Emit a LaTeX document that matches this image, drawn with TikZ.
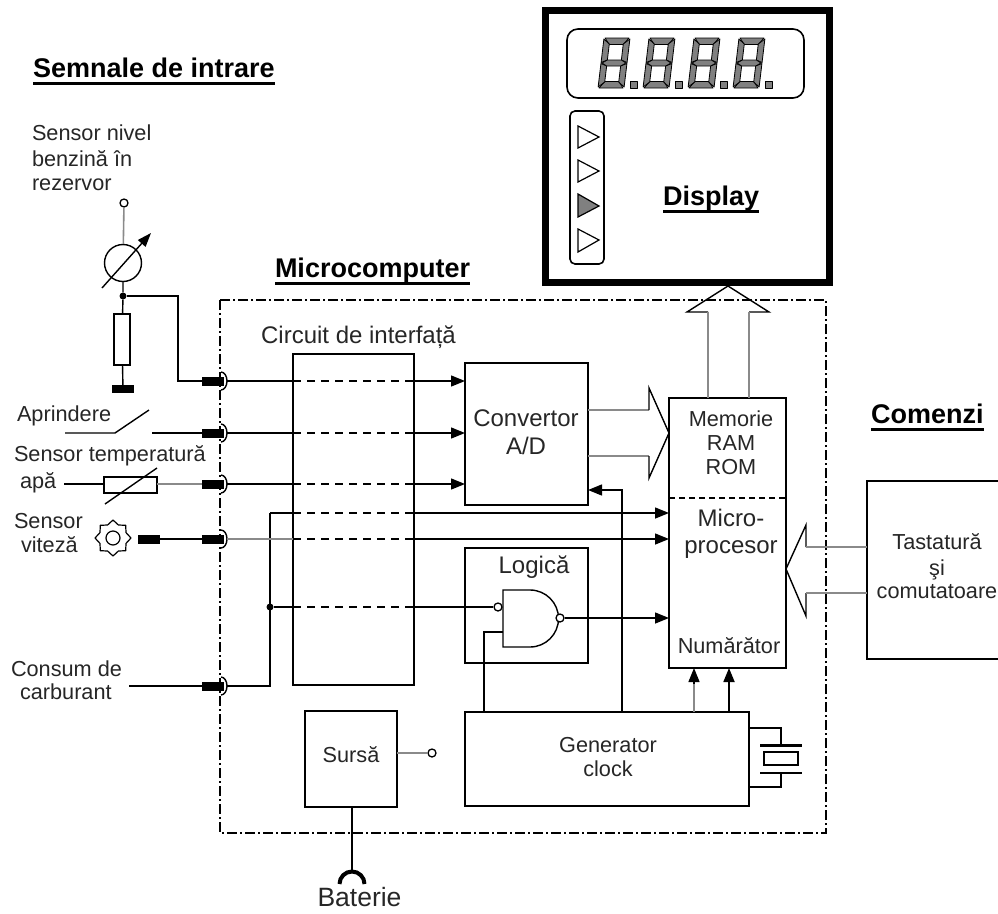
\documentclass[tikz,border=0pt]{standalone}
\usepackage{fontspec}
\setmainfont{Liberation Sans}
\usetikzlibrary{arrows.meta,calc}
\definecolor{wiregray}{HTML}{8A8A8A}
\definecolor{seggray}{HTML}{808080}
\newcommand{\headul}[2]{\setbox0\hbox{#2}\rlap{\rule[-7.5pt]{\wd0}{#1}}\box0}
\tikzset{
  wire/.style={line width=1.4pt,black},
  graywire/.style={line width=1.6pt,wiregray},
  arr/.style={-{Triangle[length=14pt,width=11pt]}},
  boxn/.style={draw,line width=1.4pt,inner sep=0pt,outer sep=0pt,anchor=north west},
  txt/.style={inner sep=0pt,outer sep=0pt,anchor=base,text=black!85,font=\fontsize{21.7}{25}\selectfont},
  ltxt/.style={txt,anchor=base west},
  bigtxt/.style={txt,font=\fontsize{24}{28}\selectfont},
  head/.style={inner sep=0pt,outer sep=0pt,anchor=base west,font=\fontsize{27}{30}\bfseries\selectfont},
  plug/.style={fill=black,inner sep=0pt,outer sep=0pt,minimum width=22pt,minimum height=9pt},
  dot/.style={circle,fill=black,inner sep=0pt,minimum size=7pt},
  term/.style={circle,draw,fill=white,line width=1.3pt,inner sep=0pt,minimum size=8pt},
  boundary/.style={line width=1.3pt,dash pattern=on 10pt off 3pt on 2pt off 3pt},
  seg/.style={fill=seggray,draw=black,line width=0.8pt,line join=round},
}
\newcommand{\portat}[2]{%
  \node[plug] (#1) at (213,#2) {};
  \draw[wire] ([shift={(8pt,9pt)}]#1.center) arc[x radius=6pt,y radius=9pt,start angle=90,end angle=-90];
  \coordinate (#1o) at ([xshift=14pt]#1.center);
}
\newcommand{\crossing}[3][wire]{%
  \draw[#1] (#2) -- (iface.west |- #2);
  \draw[wire,dash pattern=on 8pt off 6pt] (iface.west |- #2) -- (iface.east |- #2);
  \draw[wire,arr] (iface.east |- #2) -- (#3.west |- #2);
}
\newcommand{\sevenseg}[1]{%
  \begin{scope}[shift={(#1,88)},xslant=0.12]
    \draw[seg] (1,-50) -- (25,-50) -- (20,-43.5) -- (6,-43.5) -- cycle;
    \draw[seg] (1,0) -- (25,0) -- (20,-6.5) -- (6,-6.5) -- cycle;
    \draw[seg] (0,-49) -- (6,-44) -- (6,-28) -- (0,-25.5) -- cycle;
    \draw[seg] (0,-24.5) -- (6,-22) -- (6,-6) -- (0,-1) -- cycle;
    \draw[seg] (26,-49) -- (20,-44) -- (20,-28) -- (26,-25.5) -- cycle;
    \draw[seg] (26,-24.5) -- (20,-22) -- (20,-6) -- (26,-1) -- cycle;
    \draw[seg] (1,-25) -- (6,-28) -- (20,-28) -- (25,-25) -- (20,-22) -- (6,-22) -- cycle;
  \end{scope}
  \draw[seg] (#1+32,81) rectangle (#1+39,88);
}
\begin{document}
\begin{tikzpicture}[x=1pt,y=-1pt]
\useasboundingbox (0,0) rectangle (998,913);
% Headings
\node[head] (hsem) at (33,77) {\headul{3pt}{Semnale de intrare}};
\node[head] (hmic) at (275,277) {\headul{3pt}{Microcomputer}};
\node[head] (hcom) at (871,423) {\headul{3pt}{Comenzi}};
% Display
\node[boxn,line width=7pt,minimum width=284pt,minimum height=272pt] (disp) at (545,10.5) {};
\draw[line width=1.6pt,rounded corners=11pt] (567,29) rectangle (804,98);
\draw[line width=1.6pt,rounded corners=5pt] (570,111) rectangle (604,264);
\sevenseg{598}\sevenseg{643}\sevenseg{688}\sevenseg{733}
\draw[line width=1.2pt] (578,126) -- (599,137) -- (578,148) -- cycle;
\draw[line width=1.2pt] (578,160) -- (599,171) -- (578,182) -- cycle;
\draw[line width=1.2pt,fill=seggray] (578,194) -- (599,206) -- (578,217) -- cycle;
\draw[line width=1.2pt] (578,229) -- (599,240) -- (578,252) -- cycle;
\node[head,font=\fontsize{27}{30}\bfseries\selectfont] (dtxt) at (663,205) {\headul{2.4pt}{Display}};
% Boundary
\draw[boundary] (220,300) rectangle (826,833);
% Main boxes
\node[boxn,minimum width=121pt,minimum height=331pt] (iface) at (293,354) {};
\node[boxn,minimum width=123pt,minimum height=142pt] (conv) at (465,363) {};
\node[boxn,minimum width=123pt,minimum height=115pt] (logic) at (465,548) {};
\node[boxn,minimum width=117pt,minimum height=270pt] (cpu) at (669,398) {};
\node[boxn,minimum width=284pt,minimum height=94pt] (gen) at (465,712) {};
\node[boxn,minimum width=92pt,minimum height=96pt] (src) at (305,711) {};
\draw[wire,dash pattern=on 6pt off 4pt] (cpu.west |- 0,498) -- (cpu.east |- 0,498);
\draw[wire] (998,481) -- (867,481) -- (867,659) -- (998,659);
% Box labels
\node[bigtxt] (l1) at (358.5,343) {Circuit de interfață};
\node[bigtxt] (l2a) at (526,426) {Convertor};
\node[bigtxt] (l2b) at (526,454) {A/D};
\node[txt] (l3a) at (731,426) {Memorie};
\node[txt] (l3b) at (731,450) {RAM};
\node[txt] (l3c) at (731,474) {ROM};
\node[bigtxt] (l4a) at (731,526) {Micro-};
\node[bigtxt] (l4b) at (731,553) {procesor};
\node[txt] (l5) at (729,653) {Numărător};
\node[bigtxt] (l6) at (534,573) {Logică};
\node[txt] (l7a) at (608,752) {Generator};
\node[txt] (l7b) at (608,776) {clock};
\node[txt] (l8) at (351,762) {Sursă};
\node[txt] (l9a) at (937,549) {Tastatură};
\node[txt] (l9b) at (937,575) {şi};
\node[txt] (l9c) at (937,598) {comutatoare};
\node[txt,font=\fontsize{26.5}{30}\selectfont] (l10) at (359.5,906) {Baterie};
% Input labels
\node[ltxt] (s1a) at (32,140) {Sensor nivel};
\node[ltxt] (s1b) at (32,166) {benzină în};
\node[ltxt] (s1c) at (32,190) {rezervor};
\node[ltxt] (s2) at (17,421) {Aprindere};
\node[ltxt] (s3) at (14,461) {Sensor temperatură};
\node[ltxt] (s4) at (20,488) {apă};
\node[ltxt] (s5a) at (14,528) {Sensor};
\node[ltxt] (s5b) at (21,552) {viteză};
\node[ltxt] (s6a) at (11,676) {Consum de};
\node[ltxt] (s6b) at (20,699) {carburant};
% Ports
\portat{pa}{381}\portat{pb}{433}\portat{pc}{484}\portat{pd}{539}\portat{pe}{686}
% Level sensor
\node[term] (t1) at (124,203) {};
\node[circle,draw,line width=1.4pt,inner sep=0pt,minimum width=37pt] (meter) at (123,263) {};
\node[dot] (j1) at (123,296) {};
\node[boxn,anchor=center,minimum width=16pt,minimum height=51pt] (r1) at (122,339.5) {};
\node[fill=black,inner sep=0pt,minimum width=22pt,minimum height=8pt] (g1) at (123,389) {};
\draw[graywire] (t1) -- (meter);
\draw[wire] (meter) -- (j1) -- (r1) -- (g1);
\coordinate (ma) at (102,288);
\coordinate (mb) at (151,233);
\draw[wire,-{Triangle[length=14pt,width=10pt]}] (ma) -- (mb);
\draw[wire] (j1) -| (178,381) -- (pa.west);
% Ignition
\coordinate (sw1) at (65,433);
\coordinate (sw2) at (115,433);
\coordinate (sw3) at (149,410);
\coordinate (sw4) at (152,433);
\draw[wire] (sw1) -- (sw2) -- (sw3);
\draw[wire] (sw4) -- (pb.west);
% Temperature
\coordinate (tw) at (64,484);
\node[boxn,anchor=center,minimum width=53pt,minimum height=16pt] (r2) at (130.5,485) {};
\coordinate (ta) at (105,504);
\coordinate (tb) at (157,468);
\draw[wire] (tw) -- (r2.west |- tw);
\draw[graywire] (r2.east |- pc) -- (pc.west);
\draw[wire] (ta) -- (tb);
% Speed
\node[fill=black,inner sep=0pt,minimum width=22pt,minimum height=9pt] (vb) at (149,539) {};
\draw[wire] (vb) -- (pd.west);
\draw[line width=1.2pt] (113,538) circle[radius=7pt];
\draw[line width=1.2pt,line join=round]
  (113,520) -- (118.4,525) -- (125.7,525.3) -- (126,532.6) -- (131,538)
  -- (126,543.4) -- (125.7,550.7) -- (118.4,551) -- (113,556)
  -- (107.6,551) -- (100.3,550.7) -- (100,543.4) -- (95,538)
  -- (100,532.6) -- (100.3,525.3) -- (107.6,525) -- cycle;
% Fuel
\coordinate (fw) at (129,686);
\draw[wire] (fw) -- (pe.west);
\coordinate (bus) at (270,686);
\coordinate (busmid) at (270,607);
\coordinate (bustop) at (270,513);
\draw[wire] (peo) -- (bus) -- (bustop);
\node[dot] (j2) at (busmid) {};
% Signals through the interface
\crossing{pao}{conv}
\crossing{pbo}{conv}
\crossing{pco}{conv}
\crossing[graywire]{pdo}{cpu}
\crossing{bustop}{cpu}
% NAND
\coordinate (nandtl) at (503,590);
\draw[wire] (nandtl) -- (530,590) arc[radius=28.5pt,start angle=90,end angle=-90] -- (503,647) -- cycle;
\node[term] (nin) at (498,607) {};
\node[term] (nout) at (560,618) {};
\draw[wire] (j2) -- (iface.west |- j2);
\draw[wire,dash pattern=on 8pt off 6pt] (iface.west |- j2) -- (iface.east |- j2);
\draw[wire] (iface.east |- j2) -- (nin);
\draw[wire,arr] (nout) -- (cpu.west |- nout);
\draw[wire] (503,632) -- (484,632) -- (gen.north -| 484,0);
% Generator connections
\coordinate (g0) at (622,712);
\draw[wire,arr] (g0) -- (622,490) -- (conv.east |- 0,490);
\draw[graywire] (694,712) -- (694,682);
\draw[wire,arr] (694,684) -- (cpu.south -| 694,0);
\draw[wire,line width=1.8pt,arr] (729,712) -- (cpu.south -| 729,0);
% Crystal
\draw[wire] (gen.east |- 0,728) -- (781,728) -- (781,745);
\draw[line width=2.6pt] (760,745.5) -- (802,745.5);
\node[boxn,anchor=center,minimum width=34pt,minimum height=13pt] (xt) at (781,758.5) {};
\draw[line width=2.6pt] (760,773) -- (802,773);
\draw[wire] (781,773) -- (781,787) -- (gen.east |- 0,787);
% Source
\node[term] (so) at (432,753) {};
\draw[graywire] (src.east |- so) -- (so);
\coordinate (bat) at (352,872);
\draw[wire] (src.south -| bat) -- (bat);
\draw[line width=4pt] (339.5,884) arc[radius=12.5pt,start angle=180,end angle=0];
% Hollow bus arrows
\draw[wire,line join=miter] (708,312) -- (687,312) -- (728,286) -- (769,312) -- (749,312);
\draw[graywire] (708,312) -- (708,398);
\draw[graywire] (749,312) -- (749,398);
\draw[graywire] (conv.east |- 0,410) -- (649,410);
\draw[graywire] (conv.east |- 0,456) -- (649,456);
\draw[wire] (649,410) -- (649,388) -- (cpu.west |- 0,433) -- (649,478) -- (649,456);
\draw[wire] (806,547) -- (806,525) -- (cpu.east |- 0,569) -- (806,616) -- (806,593);
\draw[graywire] (806,547) -- (867,547);
\draw[graywire] (806,593) -- (867,593);
\end{tikzpicture}
\end{document}
